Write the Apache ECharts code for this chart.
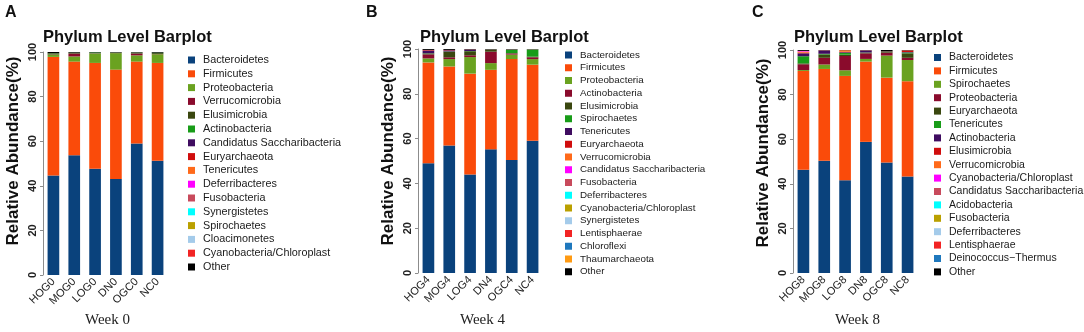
<!DOCTYPE html>
<html>
<head>
<meta charset="utf-8">
<script src="https://cdn.jsdelivr.net/npm/echarts@6/dist/echarts.min.js"></script>
<style>
html, body { margin: 0; padding: 0; background: #fff; }
#chart { width: 1084px; height: 332px; }
</style>
</head>
<body>
<div id="chart"></div>
<script>
// colours go by legend position in every panel
const palette = ['#0a427c', '#fa4b0a', '#6aa220', '#8a0b2c', '#3a470f', '#189c18', '#3f0c60', '#d00d0d',
    '#ff6a1a', '#ff00ff', '#c84a5c', '#00ffff', '#baa000', '#a4cbea', '#f22424', '#1f78bd', '#ff9a12'];

// week 0
const week0Samples = ['HOG0', 'MOG0', 'LOG0', 'DN0', 'OGC0', 'NC0'];
const week0Phyla = ['Bacteroidetes', 'Firmicutes', 'Proteobacteria', 'Verrucomicrobia', 'Elusimicrobia',
    'Actinobacteria', 'Candidatus Saccharibacteria', 'Euryarchaeota', 'Tenericutes', 'Deferribacteres',
    'Fusobacteria', 'Synergistetes', 'Spirochaetes', 'Cloacimonetes', 'Cyanobacteria/Chloroplast', 'Other'];
const week0Values = [
    [44.6, 53.7, 47.6, 43.1, 59.0, 51.2],
    [53.2, 42.0, 47.5, 49.0, 36.7, 43.9],
    [1.0, 2.3, 4.2, 7.4, 2.8, 3.9],
    [0.1, 1.3, 0.1, 0.1, 0.8, 0.1],
    [0.5, 0.3, 0.1, 0.1, 0.4, 0.4],
    [0.1, 0.1, 0.3, 0.1, 0.1, 0.2],
    [0, 0, 0, 0, 0, 0],
    [0, 0, 0, 0, 0, 0],
    [0, 0, 0, 0, 0, 0],
    [0, 0, 0, 0, 0, 0],
    [0, 0, 0, 0, 0, 0],
    [0, 0, 0, 0, 0, 0],
    [0, 0, 0, 0, 0, 0],
    [0, 0, 0, 0, 0, 0],
    [0, 0, 0, 0, 0, 0],
    [0.5, 0.3, 0.2, 0.2, 0.2, 0.3]
];

// week 4
const week4Samples = ['HOG4', 'MOG4', 'LOG4', 'DN4', 'OGC4', 'NC4'];
const week4Phyla = ['Bacteroidetes', 'Firmicutes', 'Proteobacteria', 'Actinobacteria', 'Elusimicrobia',
    'Spirochaetes', 'Tenericutes', 'Euryarchaeota', 'Verrucomicrobia', 'Candidatus Saccharibacteria',
    'Fusobacteria', 'Deferribacteres', 'Cyanobacteria/Chloroplast', 'Synergistetes', 'Lentisphaerae',
    'Chloroflexi', 'Thaumarchaeota', 'Other'];
const week4Values = [
    [49.0, 56.9, 44.0, 55.2, 50.4, 59.0],
    [45.0, 35.3, 45.0, 35.5, 45.1, 34.0],
    [1.8, 3.3, 7.4, 3.0, 2.0, 2.5],
    [1.8, 0.8, 0.8, 5.1, 0.5, 0.8],
    [0.4, 2.5, 1.8, 0.8, 0.2, 0.3],
    [0.1, 0.1, 0.1, 0.1, 1.5, 3.2],
    [1.2, 0.5, 0.6, 0.05, 0.1, 0.1],
    [0.3, 0.2, 0.1, 0.05, 0.05, 0.05],
    [0, 0, 0, 0, 0, 0],
    [0, 0, 0, 0, 0, 0],
    [0, 0, 0, 0, 0, 0],
    [0, 0, 0, 0, 0, 0],
    [0, 0, 0, 0, 0, 0],
    [0, 0, 0, 0, 0, 0],
    [0, 0, 0, 0, 0, 0],
    [0, 0, 0, 0, 0, 0],
    [0, 0, 0, 0, 0, 0],
    [0.4, 0.4, 0.2, 0.2, 0.15, 0.05]
];

// week 8
const week8Samples = ['HOG8', 'MOG8', 'LOG8', 'DN8', 'OGC8', 'NC8'];
const week8Phyla = ['Bacteroidetes', 'Firmicutes', 'Spirochaetes', 'Proteobacteria', 'Euryarchaeota',
    'Tenericutes', 'Actinobacteria', 'Elusimicrobia', 'Verrucomicrobia', 'Cyanobacteria/Chloroplast',
    'Candidatus Saccharibacteria', 'Acidobacteria', 'Fusobacteria', 'Deferribacteres', 'Lentisphaerae',
    'Deinococcus\u2212Thermus', 'Other'];
const week8Values = [
    [46.3, 50.3, 41.6, 58.8, 49.6, 43.3],
    [44.3, 41.2, 46.8, 36.0, 38.0, 42.7],
    [0.4, 2.0, 2.5, 1.2, 9.9, 9.5],
    [2.6, 3.0, 6.4, 2.5, 1.3, 1.0],
    [0.4, 1.5, 0.6, 0.3, 0.3, 2.0],
    [3.2, 0.3, 0.8, 0.1, 0.1, 0.4],
    [1.3, 1.5, 0.3, 0.9, 0.05, 0.2],
    [0.3, 0.05, 0.2, 0.05, 0.05, 0.7],
    [0.5, 0.05, 0.7, 0.05, 0.05, 0.05],
    [0.3, 0, 0, 0, 0, 0],
    [0, 0, 0, 0, 0, 0],
    [0, 0, 0, 0, 0, 0],
    [0, 0, 0, 0, 0, 0],
    [0, 0, 0, 0, 0, 0],
    [0, 0, 0, 0, 0, 0],
    [0, 0, 0, 0, 0, 0],
    [0.4, 0.1, 0.1, 0.1, 0.65, 0.15]
];

const yTicks = [0, 20, 40, 60, 80, 100];

const sans = "'Liberation Sans', Arial, sans-serif";
const serif = "'Liberation Serif', 'Times New Roman', serif";

const panels = [
    {key: 'A', samples: week0Samples, phyla: week0Phyla, values: week0Values, week: 'Week 0',
        grid: {left: 43, top: 52, width: 125, height: 223},
        legend: {left: 183, top: 49.5, fontSize: 10.8, lineHeight: 11, gap: 2.8},
        letterX: 0, titleX: 38, ylabX: 13, ylabY: 151},
    {key: 'B', samples: week4Samples, phyla: week4Phyla, values: week4Values, week: 'Week 4',
        grid: {left: 418, top: 49, width: 125, height: 224},
        legend: {left: 560, top: 45, fontSize: 9.8, lineHeight: 10, gap: 2.75},
        letterX: 361, titleX: 415, ylabX: 388, ylabY: 151},
    {key: 'C', samples: week8Samples, phyla: week8Phyla, values: week8Values, week: 'Week 8',
        grid: {left: 793, top: 50, width: 125, height: 223},
        legend: {left: 929, top: 47, fontSize: 10.5, lineHeight: 10.5, gap: 2.4},
        letterX: 747, titleX: 789, ylabX: 763, ylabY: 153}
];

let grids = [], xAxes = [], yAxes = [], legends = [], titles = [], series = [], graphics = [];

panels.forEach((p, k) => {
    grids.push(p.grid);
    xAxes.push({
        type: 'category', gridIndex: k, data: p.samples,
        axisLine: {show: false}, axisTick: {show: false},
        axisLabel: {rotate: 45, interval: 0, margin: 5, fontSize: 11, color: '#222', fontFamily: sans}
    });
    yAxes.push({
        type: 'value', gridIndex: k, min: yTicks[0], max: yTicks[yTicks.length - 1], interval: 20,
        splitLine: {show: false},
        axisLine: {show: true, lineStyle: {color: '#8c8c8c', width: 1}},
        axisTick: {show: true, length: 3, lineStyle: {color: '#8c8c8c'}},
        axisLabel: {rotate: 90, margin: 5, fontSize: 11, fontWeight: 'bold', color: '#222', fontFamily: sans}
    });
    legends.push({
        orient: 'vertical', left: p.legend.left, top: p.legend.top,
        itemWidth: 7, itemHeight: 7, itemGap: p.legend.gap, icon: 'rect',
        selectedMode: false,
        data: p.phyla.map(n => n + '@' + p.key),
        formatter: name => name.split('@')[0],
        textStyle: {fontSize: p.legend.fontSize, lineHeight: p.legend.lineHeight, color: '#1a1a1a',
            fontFamily: sans, padding: [0, 0, 0, 3]}
    });
    titles.push({
        text: 'Phylum Level Barplot', left: p.titleX, top: 24,
        textStyle: {fontSize: 16.5, fontWeight: 'bold', color: '#111', fontFamily: sans}
    });
    titles.push({
        text: p.key, left: p.letterX, top: 0,
        textStyle: {fontSize: 16, fontWeight: 'bold', color: '#111', fontFamily: sans}
    });
    graphics.push({
        type: 'text', x: p.ylabX, y: p.ylabY, rotation: Math.PI / 2,
        style: {text: 'Relative Abundance(%)', font: 'bold 17px ' + sans, fill: '#111',
            textAlign: 'center', textVerticalAlign: 'middle'}
    });
    graphics.push({
        type: 'text', x: p.grid.left + p.grid.width / 2 + 2, y: 320,
        style: {text: p.week, font: '15px ' + serif, fill: '#222',
            textAlign: 'center', textVerticalAlign: 'middle'}
    });
    p.phyla.forEach((name, i) => {
        series.push({
            type: 'bar', name: name + '@' + p.key, stack: 'stack' + p.key,
            xAxisIndex: k, yAxisIndex: k, barWidth: '56%',
            data: p.values[i],
            itemStyle: {color: name === 'Other' ? '#000' : palette[i]},
            emphasis: {disabled: true}
        });
    });
});

const chart = echarts.init(document.getElementById('chart'), null, {renderer: 'canvas'});
chart.setOption({
    animation: false,
    backgroundColor: '#fff',
    title: titles,
    grid: grids,
    xAxis: xAxes,
    yAxis: yAxes,
    legend: legends,
    graphic: graphics,
    series: series
});
</script>
</body>
</html>
